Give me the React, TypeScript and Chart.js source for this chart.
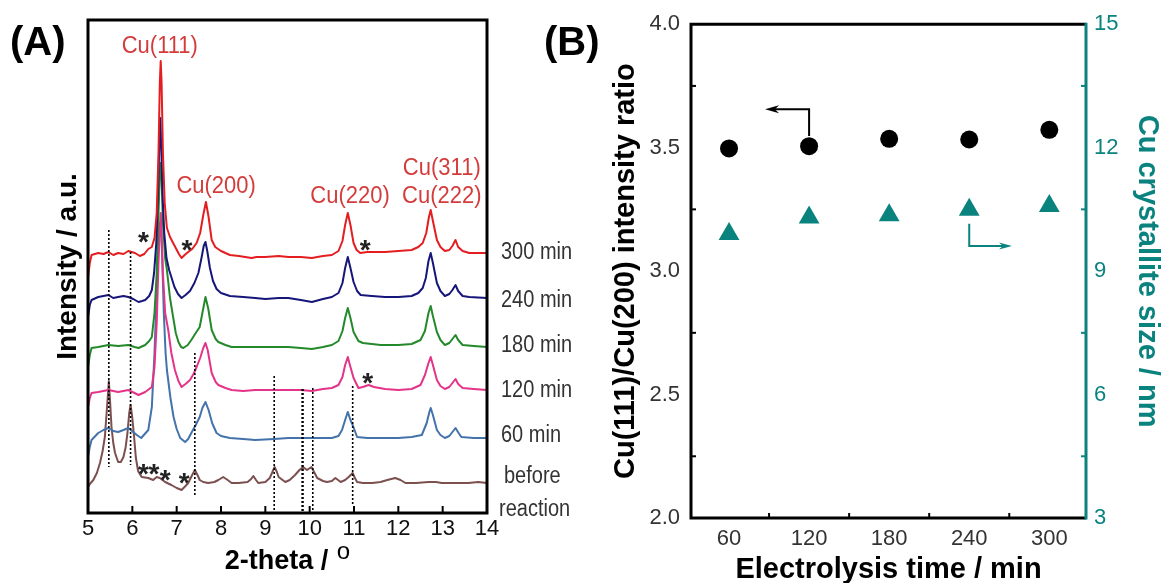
import React, { useEffect, useRef } from "react";
import { Chart, registerables } from "chart.js";
Chart.register(...registerables);

const FONT = '"Liberation Sans", Arial, Helvetica, sans-serif';

// ---------------- Panel A data (2-theta in degrees, intensity in a.u.) ----------------
const thetaTicks = [5, 6, 7, 8, 9, 10, 11, 12, 13, 14];

const trace300: number[][] = [
  [5.0, 236], [5.04, 250], [5.08, 258], [5.23, 260], [5.35, 259], [5.46, 261], [5.57, 258], [5.68, 260], [5.8, 259],
  [5.91, 262], [6.06, 260], [6.17, 257], [6.27, 259], [6.36, 264], [6.44, 266], [6.5, 275], [6.55, 300], [6.59, 360],
  [6.62, 430], [6.64, 452], [6.66, 430], [6.69, 360], [6.73, 310], [6.78, 285], [6.85, 276], [6.92, 270], [6.98, 265],
  [7.05, 259], [7.11, 255], [7.18, 258], [7.26, 261], [7.35, 264], [7.45, 270], [7.53, 280], [7.6, 298], [7.66, 311],
  [7.72, 296], [7.79, 273], [7.87, 266], [8.0, 262], [8.2, 258], [8.4, 257], [8.69, 255], [8.8, 256], [9.0, 256],
  [9.3, 257], [9.52, 256], [9.8, 256], [10.05, 255], [10.3, 257], [10.5, 258], [10.65, 262], [10.74, 272], [10.8, 288],
  [10.86, 300], [10.92, 288], [10.99, 270], [11.06, 263], [11.14, 260], [11.3, 261], [11.47, 261], [11.7, 261],
  [12.0, 262], [12.3, 263], [12.45, 266], [12.55, 270], [12.63, 280], [12.69, 296], [12.73, 303], [12.78, 292],
  [12.87, 273], [12.95, 266], [13.05, 262], [13.15, 263], [13.22, 267], [13.29, 273], [13.35, 266], [13.45, 262],
  [13.6, 260], [13.8, 260], [14.0, 260],
];

const trace240: number[][] = [
  [5.0, 196], [5.04, 208], [5.08, 213], [5.23, 216], [5.35, 217], [5.46, 218], [5.57, 215], [5.68, 216], [5.8, 217],
  [5.91, 216], [6.02, 214], [6.14, 211], [6.22, 212], [6.29, 213], [6.38, 217], [6.44, 223], [6.49, 240], [6.54, 270],
  [6.58, 320], [6.61, 370], [6.63, 395], [6.65, 370], [6.68, 320], [6.72, 280], [6.77, 255], [6.83, 243], [6.88, 236],
  [6.95, 226], [7.03, 219], [7.11, 215], [7.2, 218], [7.3, 222], [7.4, 230], [7.49, 240], [7.56, 255], [7.61, 267],
  [7.65, 271], [7.69, 262], [7.75, 245], [7.82, 232], [7.9, 224], [8.0, 220], [8.2, 217], [8.5, 216], [8.77, 215],
  [9.0, 214], [9.3, 215], [9.52, 215], [9.8, 213], [10.05, 211], [10.3, 214], [10.5, 216], [10.65, 220], [10.74, 230],
  [10.8, 245], [10.86, 256], [10.92, 245], [10.99, 231], [11.07, 222], [11.15, 218], [11.4, 217], [11.7, 216],
  [12.0, 216], [12.3, 217], [12.45, 220], [12.55, 225], [12.62, 235], [12.68, 252], [12.73, 260], [12.78, 250],
  [12.87, 230], [12.95, 222], [13.05, 217], [13.15, 219], [13.22, 223], [13.29, 228], [13.35, 222], [13.45, 217],
  [13.6, 216], [14.0, 215],
];

const trace180: number[][] = [
  [5.0, 146], [5.04, 158], [5.08, 165], [5.23, 166], [5.46, 168], [5.68, 167], [5.91, 168], [6.05, 166], [6.14, 165],
  [6.29, 168], [6.38, 172], [6.44, 176], [6.5, 200], [6.55, 240], [6.59, 300], [6.62, 340], [6.64, 350], [6.66, 335],
  [6.69, 290], [6.74, 255], [6.78, 243], [6.85, 215], [6.92, 196], [6.98, 180], [7.04, 171], [7.1, 166], [7.15, 165],
  [7.25, 168], [7.33, 173], [7.43, 180], [7.52, 186], [7.58, 200], [7.65, 216], [7.71, 205], [7.79, 183], [7.88, 174],
  [7.94, 171], [8.1, 168], [8.24, 166], [8.5, 166], [8.77, 166], [9.2, 166], [9.52, 166], [9.8, 165], [10.05, 164],
  [10.3, 166], [10.5, 168], [10.65, 172], [10.74, 182], [10.8, 195], [10.86, 205], [10.92, 195], [10.99, 181],
  [11.1, 172], [11.2, 170], [11.6, 168], [12.0, 168], [12.3, 169], [12.5, 173], [12.6, 182], [12.68, 200], [12.73, 207],
  [12.78, 197], [12.87, 181], [12.95, 173], [13.05, 168], [13.15, 170], [13.22, 174], [13.29, 178], [13.35, 173],
  [13.45, 168], [13.7, 167], [14.0, 166],
];

const trace120: number[][] = [
  [5.0, 106], [5.04, 115], [5.08, 120], [5.23, 121], [5.46, 123], [5.68, 121], [5.91, 123], [6.05, 120], [6.14, 118],
  [6.29, 121], [6.38, 124], [6.44, 126], [6.5, 146], [6.55, 190], [6.59, 250], [6.62, 285], [6.64, 300], [6.66, 280],
  [6.69, 240], [6.74, 200], [6.81, 183], [6.88, 160], [6.96, 143], [7.04, 132], [7.11, 126], [7.2, 129], [7.3, 133],
  [7.38, 139], [7.45, 146], [7.53, 155], [7.6, 165], [7.65, 170], [7.7, 163], [7.79, 140], [7.88, 131], [7.94, 128],
  [8.1, 125], [8.24, 123], [8.5, 122], [8.77, 123], [9.2, 123], [9.52, 123], [9.8, 123], [10.05, 122], [10.3, 124],
  [10.5, 125], [10.65, 128], [10.74, 136], [10.8, 148], [10.86, 156], [10.92, 146], [10.99, 135], [11.1, 125],
  [11.2, 126], [11.33, 128], [11.45, 126], [11.7, 124], [12.0, 123], [12.3, 124], [12.5, 128], [12.6, 138],
  [12.68, 150], [12.73, 156], [12.78, 148], [12.87, 133], [12.95, 127], [13.05, 124], [13.15, 126], [13.22, 130],
  [13.29, 134], [13.35, 129], [13.45, 125], [13.7, 124], [14.0, 123],
];

const trace60: number[][] = [
  [5.0, 56], [5.04, 66], [5.08, 73], [5.23, 80], [5.35, 83], [5.46, 85], [5.57, 82], [5.68, 81], [5.8, 83], [5.91, 85],
  [6.02, 81], [6.1, 78], [6.2, 75], [6.3, 80], [6.36, 83], [6.44, 106], [6.5, 160], [6.54, 210], [6.58, 260],
  [6.62, 290], [6.64, 290], [6.67, 260], [6.71, 200], [6.75, 160], [6.78, 143], [6.86, 115], [6.93, 96], [7.0, 84],
  [7.08, 75], [7.19, 71], [7.26, 74], [7.33, 80], [7.43, 88], [7.52, 96], [7.58, 105], [7.65, 111], [7.72, 103],
  [7.8, 90], [7.9, 80], [8.0, 77], [8.2, 75], [8.5, 74], [8.77, 73], [9.2, 74], [9.52, 75], [9.8, 75], [10.27, 75],
  [10.5, 75], [10.65, 77], [10.73, 83], [10.8, 93], [10.86, 101], [10.92, 93], [10.97, 88], [11.07, 76], [11.3, 75],
  [11.7, 75], [12.0, 75], [12.3, 76], [12.53, 78], [12.64, 90], [12.7, 101], [12.73, 105], [12.78, 98], [12.87, 83],
  [12.95, 78], [13.05, 75], [13.15, 77], [13.22, 81], [13.29, 85], [13.36, 80], [13.42, 76], [13.7, 75], [14.0, 75],
];

const traceBefore: number[][] = [
  [5.0, 26], [5.06, 30], [5.12, 33], [5.2, 40], [5.27, 50], [5.33, 62], [5.38, 76], [5.43, 106], [5.47, 132],
  [5.5, 110], [5.53, 86], [5.57, 70], [5.61, 60], [5.68, 51], [5.74, 51], [5.8, 56], [5.85, 66], [5.89, 80],
  [5.93, 100], [5.96, 108], [6.0, 95], [6.04, 76], [6.08, 55], [6.13, 42], [6.21, 36], [6.36, 35], [6.47, 33],
  [6.55, 36], [6.62, 35], [6.68, 33], [6.74, 31], [6.88, 28], [7.0, 25], [7.11, 23], [7.2, 27], [7.26, 30], [7.35, 38],
  [7.41, 43], [7.47, 38], [7.52, 33], [7.6, 31], [7.71, 30], [7.85, 31], [7.94, 33], [8.05, 36], [8.15, 33],
  [8.24, 30], [8.4, 30], [8.6, 31], [8.68, 34], [8.73, 37], [8.79, 33], [8.84, 30], [9.0, 31], [9.1, 35], [9.15, 40],
  [9.21, 46], [9.26, 41], [9.3, 36], [9.45, 31], [9.55, 33], [9.67, 38], [9.77, 43], [9.85, 46], [9.94, 43],
  [10.04, 46], [10.1, 41], [10.17, 35], [10.3, 32], [10.39, 31], [10.5, 32], [10.58, 35], [10.64, 33], [10.7, 31],
  [10.8, 33], [10.88, 36], [10.97, 40], [11.02, 35], [11.07, 31], [11.2, 30], [11.41, 30], [11.6, 31], [11.75, 33],
  [11.93, 35], [12.05, 33], [12.16, 30], [12.4, 30], [12.68, 31], [12.85, 31], [12.98, 30], [13.2, 30], [13.58, 30],
  [13.8, 31], [14.0, 30],
];

const seriesNamesA = ["300 min", "240 min", "180 min", "120 min", "60 min", "before reaction"];
const seriesColorsA = ["#e41e20", "#16167a", "#23892a", "#e4348a", "#4373aa", "#7d5050"];
const seriesDataA = [trace300, trace240, trace180, trace120, trace60, traceBefore];

// peak labels: text, 2-theta, intensity of baseline
const peakLabels = ["Cu(111)", "Cu(200)", "Cu(220)", "Cu(311)", "Cu(222)"];
const peakLabelTheta = [6.62, 7.89, 10.91, 12.98, 12.98];
const peakLabelY = [460, 320, 310, 338, 310];

// star markers (2-theta, intensity)
const starTheta = [6.25, 7.23, 11.25, 11.31, 6.25, 6.49, 6.74, 7.17];
const starY = [278, 270, 270, 137, 46, 46, 40, 37];

// dotted reference lines (2-theta, top, bottom)
const refTheta = [5.47, 5.96, 7.41, 9.2, 9.84, 10.07, 10.97];
const refTop = [283, 261, 160, 137, 124, 125, 127];
const refBottom = [46, 48, 17, 0, 0, 0, 8];

// right-hand series labels (text, baseline intensity)
const sideLabels = ["300 min", "240 min", "180 min", "120 min", "60 min", "before", "reaction"];
const sideLabelY = [254, 206, 161.5, 116.5, 71, 30, -3];

// ---------------- Panel B data ----------------
const timeTicks = [60, 120, 180, 240, 300];
const electrolysisTime = [60, 120, 180, 240, 300];
const intensityRatio = [3.497, 3.506, 3.536, 3.533, 3.572];
const crystalliteSize = [9.9, 10.3, 10.36, 10.49, 10.58];
const ratioTicks = [2.0, 2.5, 3.0, 3.5, 4.0];
const sizeTicks = [3, 6, 9, 12, 15];
const ratioMinor = [2.25, 2.75, 3.25, 3.75];
const sizeMinor = [4.5, 7.5, 10.5, 13.5];
const timeMinor = [90, 150, 210, 270];

const TEAL = "#0a837f";
const CU_RED = "#d43c3c";

function txt(ctx: CanvasRenderingContext2D, s: string, x: number, y: number, font: string, color: string, align: CanvasTextAlign = "left", rot = 0, sy = 1) {
  ctx.save();
  ctx.translate(x, y);
  if (rot) ctx.rotate(rot);
  if (sy !== 1) ctx.scale(1, sy);
  ctx.font = font;
  ctx.fillStyle = color;
  ctx.textAlign = align;
  ctx.textBaseline = "alphabetic";
  ctx.fillText(s, 0, 0);
  ctx.restore();
}

function arrowHead(ctx: CanvasRenderingContext2D, x: number, y: number, dir: number, len: number, half: number) {
  ctx.beginPath();
  ctx.moveTo(x, y);
  ctx.lineTo(x - dir * len, y - half);
  ctx.lineTo(x - dir * len * 0.7, y);
  ctx.lineTo(x - dir * len, y + half);
  ctx.closePath();
  ctx.fill();
}

const panelAPlugin = {
  id: "panelADecor",
  afterDatasetsDraw(chart: any) {
    const { ctx, chartArea: a, scales } = chart;
    const x = scales.x, y = scales.y;
    ctx.save();
    // dotted lines
    ctx.strokeStyle = "#000";
    ctx.setLineDash([2, 2]);
    refTheta.forEach((t, i) => {
      const px = x.getPixelForValue(t);
      ctx.lineWidth = i === 4 ? 2.4 : 1.6;
      ctx.beginPath();
      ctx.moveTo(px, y.getPixelForValue(refTop[i]));
      ctx.lineTo(px, Math.min(a.bottom, y.getPixelForValue(refBottom[i])));
      ctx.stroke();
    });
    ctx.setLineDash([]);
    // frame
    ctx.lineWidth = 3;
    ctx.strokeStyle = "#000";
    ctx.strokeRect(a.left, a.top, a.right - a.left, a.bottom - a.top);
    // ticks
    ctx.lineWidth = 2;
    thetaTicks.forEach((t) => {
      const px = x.getPixelForValue(t);
      ctx.beginPath();
      ctx.moveTo(px, a.bottom);
      ctx.lineTo(px, a.bottom - 7);
      ctx.stroke();
    });
    // peak labels
    peakLabels.forEach((s, i) => {
      txt(ctx, s, x.getPixelForValue(peakLabelTheta[i]), y.getPixelForValue(peakLabelY[i]), `22px ${FONT}`, CU_RED, "center", 0, 1.1);
    });
    // stars
    starTheta.forEach((t, i) => {
      txt(ctx, "*", x.getPixelForValue(t), y.getPixelForValue(starY[i]) + 16, `bold 28px ${FONT}`, "#222", "center");
    });
    // side labels
    sideLabels.forEach((s, i) => {
      const dx = s === "before" ? 17 : s === "reaction" ? 12 : 14;
      txt(ctx, s, a.right + dx, y.getPixelForValue(sideLabelY[i]), `20px ${FONT}`, "#333", "left", 0, 1.15);
    });
    // y title
    txt(ctx, "Intensity / a.u.", 76, (a.top + a.bottom) / 2, `bold 28px ${FONT}`, "#000", "center", -Math.PI / 2);
    // x title with superscript o
    ctx.font = `bold 27px ${FONT}`;
    const main = "2-theta / ";
    const w1 = ctx.measureText(main).width;
    ctx.font = `bold 24px ${FONT}`;
    const w2 = ctx.measureText("o").width;
    const cx = (a.left + a.right) / 2;
    const x0 = cx - (w1 + w2) / 2;
    txt(ctx, main, x0, 569, `bold 27px ${FONT}`, "#000", "left");
    txt(ctx, "o", x0 + w1 + 1, 559, `24px ${FONT}`, "#000", "left");
    // panel letter
    txt(ctx, "(A)", 10, 55, `bold 40px ${FONT}`, "#000", "left");
    ctx.restore();
  },
};

const panelBPlugin = {
  id: "panelBDecor",
  afterDatasetsDraw(chart: any) {
    const { ctx, chartArea: a, scales } = chart;
    const x = scales.x, y = scales.y, y1 = scales.y1;
    ctx.save();
    ctx.lineCap = "butt";
    // frame
    ctx.lineWidth = 3;
    ctx.strokeStyle = "#000";
    ctx.beginPath();
    ctx.moveTo(a.right, a.top);
    ctx.lineTo(a.left, a.top);
    ctx.lineTo(a.left, a.bottom);
    ctx.lineTo(a.right, a.bottom);
    ctx.stroke();
    ctx.strokeStyle = TEAL;
    ctx.beginPath();
    ctx.moveTo(a.right, a.top - 1.5);
    ctx.lineTo(a.right, a.bottom + 1.5);
    ctx.stroke();
    // minor ticks
    ctx.lineWidth = 2;
    ctx.strokeStyle = "#000";
    ratioMinor.forEach((v) => {
      const py = y.getPixelForValue(v);
      ctx.beginPath(); ctx.moveTo(a.left, py); ctx.lineTo(a.left + 5, py); ctx.stroke();
    });
    timeMinor.forEach((v) => {
      const px = x.getPixelForValue(v);
      ctx.beginPath(); ctx.moveTo(px, a.bottom); ctx.lineTo(px, a.bottom - 5); ctx.stroke();
    });
    ctx.strokeStyle = TEAL;
    sizeMinor.forEach((v) => {
      const py = y1.getPixelForValue(v);
      ctx.beginPath(); ctx.moveTo(a.right, py); ctx.lineTo(a.right - 5, py); ctx.stroke();
    });
    // black arrow (points to left axis)
    ctx.lineWidth = 2;
    ctx.strokeStyle = "#000";
    ctx.fillStyle = "#000";
    const bx = x.getPixelForValue(120), by0 = y.getPixelForValue(3.547), by1 = y.getPixelForValue(3.656);
    const btip = x.getPixelForValue(87);
    ctx.beginPath(); ctx.moveTo(bx, by0); ctx.lineTo(bx, by1); ctx.lineTo(btip + 8, by1); ctx.stroke();
    arrowHead(ctx, btip, by1, -1, 14, 4);
    // teal arrow (points to right axis)
    ctx.strokeStyle = TEAL;
    ctx.fillStyle = TEAL;
    const tx = x.getPixelForValue(240), ty0 = y1.getPixelForValue(10.15), ty1 = y1.getPixelForValue(9.61);
    const ttip = x.getPixelForValue(272);
    ctx.beginPath(); ctx.moveTo(tx, ty0); ctx.lineTo(tx, ty1); ctx.lineTo(ttip - 8, ty1); ctx.stroke();
    arrowHead(ctx, ttip, ty1, 1, 13, 3.5);
    // titles
    txt(ctx, "Cu(111)/Cu(200) intensity ratio", 94, (a.top + a.bottom) / 2, `bold 29px ${FONT}`, "#000", "center", -Math.PI / 2);
    txt(ctx, "Cu crystallite size / nm", 599, (a.top + a.bottom) / 2, `bold 29px ${FONT}`, TEAL, "center", Math.PI / 2);
    txt(ctx, "Electrolysis time / min", (a.left + a.right) / 2, 578, `bold 29px ${FONT}`, "#000", "center");
    txt(ctx, "(B)", 4, 55, `bold 40px ${FONT}`, "#000", "left");
    ctx.restore();
  },
};

export default function App() {
  const refA = useRef<HTMLCanvasElement>(null);
  const refB = useRef<HTMLCanvasElement>(null);

  useEffect(() => {
    const tickFont = { family: FONT, size: 22 };
    const chartA = new Chart(refA.current as HTMLCanvasElement, {
      type: "scatter",
      data: {
        datasets: seriesDataA.map((d, i) => ({
          label: seriesNamesA[i],
          data: d.map((p) => ({ x: p[0], y: p[1] })),
          showLine: true,
          borderColor: seriesColorsA[i],
          backgroundColor: seriesColorsA[i],
          borderWidth: 2,
          pointRadius: 0,
          tension: 0,
          borderJoinStyle: "round" as const,
        })),
      },
      options: {
        animation: false,
        responsive: false,
        devicePixelRatio: 1,
        layout: { padding: { left: 88, right: 93, top: 20, bottom: 0 } },
        plugins: { legend: { display: false }, tooltip: { enabled: false } },
        scales: {
          x: {
            type: "linear",
            min: 5,
            max: 14,
            afterBuildTicks: (s: any) => { s.ticks = thetaTicks.map((v) => ({ value: v })); },
            afterFit: (s: any) => { s.height = 70; },
            ticks: { font: tickFont, color: "#111", padding: 3 },
            grid: { display: false, drawTicks: false },
            border: { display: false },
          },
          y: { type: "linear", min: 0, max: 493, display: false },
        },
      } as any,
      plugins: [panelAPlugin],
    });

    const chartB = new Chart(refB.current as HTMLCanvasElement, {
      type: "scatter",
      data: {
        datasets: [
          {
            label: "Cu(111)/Cu(200) intensity ratio",
            data: electrolysisTime.map((t, i) => ({ x: t, y: intensityRatio[i] })),
            yAxisID: "y",
            pointStyle: "circle",
            pointRadius: 9,
            backgroundColor: "#000",
            borderColor: "#000",
            borderWidth: 0,
          },
          {
            label: "Cu crystallite size / nm",
            data: electrolysisTime.map((t, i) => ({ x: t, y: crystalliteSize[i] })),
            yAxisID: "y1",
            pointStyle: "triangle",
            pointRadius: 12,
            backgroundColor: TEAL,
            borderColor: TEAL,
            borderWidth: 0,
          },
        ],
      },
      options: {
        animation: false,
        responsive: false,
        devicePixelRatio: 1,
        layout: { padding: { left: 0, right: 0, top: 20.5, bottom: 0 } },
        plugins: { legend: { display: false }, tooltip: { enabled: false } },
        scales: {
          x: {
            type: "linear",
            min: 31.5,
            max: 327.5,
            afterBuildTicks: (s: any) => { s.ticks = timeTicks.map((v) => ({ value: v })); },
            afterFit: (s: any) => { s.height = 65; },
            ticks: { font: tickFont, color: "#333", padding: 8 },
            grid: { display: false, drawTicks: false },
            border: { display: false },
          },
          y: {
            type: "linear",
            position: "left",
            min: 2,
            max: 4,
            afterBuildTicks: (s: any) => { s.ticks = ratioTicks.map((v) => ({ value: v })); },
            afterFit: (s: any) => { s.width = 151; },
            ticks: { font: tickFont, color: "#333", padding: 11, callback: (v: any) => Number(v).toFixed(1) },
            grid: { display: false, drawTicks: false },
            border: { display: false },
          },
          y1: {
            type: "linear",
            position: "right",
            min: 3,
            max: 15,
            afterBuildTicks: (s: any) => { s.ticks = sizeTicks.map((v) => ({ value: v })); },
            afterFit: (s: any) => { s.width = 79; },
            ticks: { font: tickFont, color: TEAL, padding: 8 },
            grid: { display: false, drawTicks: false },
            border: { display: false },
          },
        },
      } as any,
      plugins: [panelBPlugin],
    });

    return () => {
      chartA.destroy();
      chartB.destroy();
    };
  }, []);

  return (
    <div style={{ position: "absolute", left: 0, top: 0, width: 1165, height: 583, background: "#fff", overflow: "hidden" }}>
      <canvas ref={refA} width={580} height={583} style={{ position: "absolute", left: 0, top: 0, width: 580, height: 583 }} />
      <canvas ref={refB} width={625} height={583} style={{ position: "absolute", left: 540, top: 0, width: 625, height: 583 }} />
    </div>
  );
}
